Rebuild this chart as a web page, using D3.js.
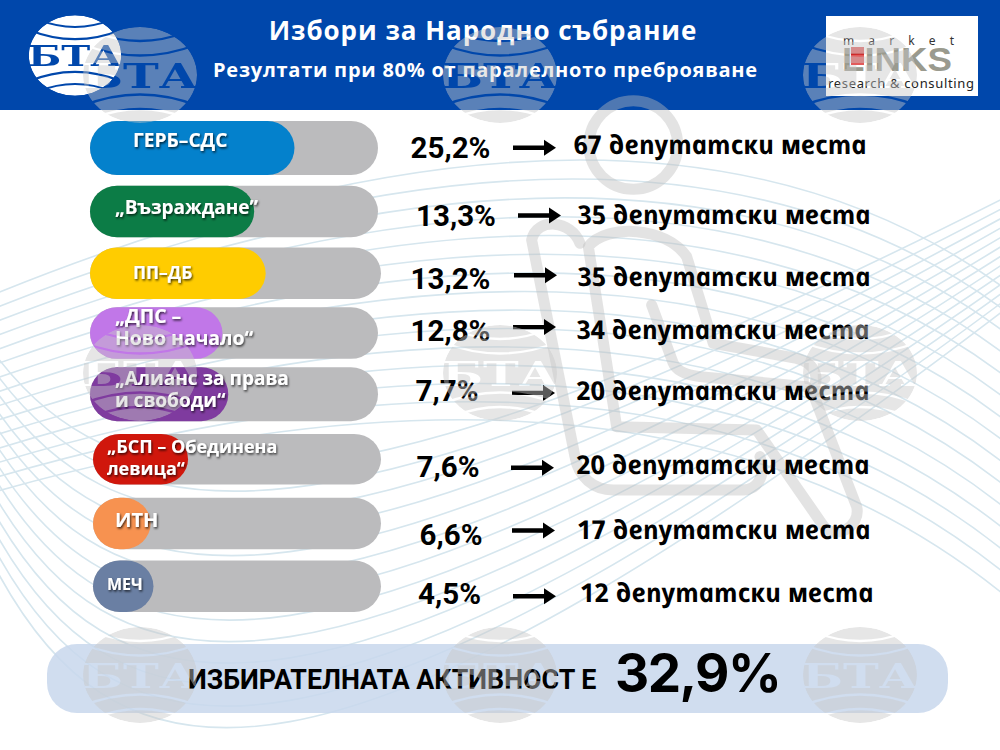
<!DOCTYPE html>
<html lang="bg">
<head>
<meta charset="utf-8">
<title>Избори за Народно събрание</title>
<script src="https://cdn.jsdelivr.net/npm/d3@7"></script>
<style>
  html, body { margin: 0; padding: 0; background: #fff; }
  svg { display: block; }
  text { font-family: "Noto Sans", "Open Sans", sans-serif; }
  .title { font-family: "Open Sans", sans-serif; font-weight: 700; fill: #fff; }
  .party { font-family: "Open Sans", sans-serif; font-weight: 700; fill: #fff; filter: url(#labelShadow); }
  .pct { font-family: Roboto, sans-serif; font-weight: 700; font-size: 29.5px; fill: #000; }
  /* курсивът дава българските форми на д, п, т, и; наклонът се връща със skewX */
  .seats { font-family: "Open Sans", sans-serif; font-style: italic; font-weight: 700; font-size: 26px; fill: #000; }
</style>
</head>
<body>
<div id="container"></div>
<script>
  // данни, прочетени от картинката
  const parties = ["ГЕРБ–СДС", "Възраждане", "ПП–ДБ", "ДПС", "Алианс", "БСП", "ИТН", "МЕЧ"];
  const partyLabels = [
    ["ГЕРБ–СДС"],
    ["„Възраждане”"],
    ["ПП–ДБ"],
    ["„ДПС –", "Ново начало“"],
    ["„Алианс за права", "и свободи“"],
    ["„БСП – Обединена", "левица“"],
    ["ИТН"],
    ["МЕЧ"]
  ];
  const percents = [25.2, 13.3, 13.2, 12.8, 7.7, 7.6, 6.6, 4.5];
  const seats = [67, 35, 35, 34, 20, 20, 17, 12];
  // запълване на лентата в % от дължината ѝ, както е на картинката (не е пропорционално)
  const barFill = [71, 57, 61, 46, 48, 33, 20, 21];
  const turnout = 32.9;

  const PARTY_COLORS = ["#0481cc", "#0c7c46", "#ffcc00", "#c177e8", "#7f3b9f", "#d0170c", "#f79250", "#6a7fa3"];

  // ръчни отмествания на редовете - оригиналът не е подреден точно
  const trackLeft = [90, 90, 90, 90, 90, 93, 93, 93];
  const trackExtra = [0, 0, 3, 0, 0, 0, 0, 0];
  const rowNudge = [0, 2, 1, -2, -5, -1, 0, 0];
  const heightNudge = [2.5, 0, 0, 0, 2.5, -1, 0, 0];
  const labelX = [133, 115, 133, 115, 115, 107, 115, 107];
  const labelY = [147, 214, 279, 323, 385, 453, 527, 590];
  const labelSize = [19.2, 19, 17.5, 19.4, 19, 18, 20, 16];
  const pctX = [450.5, 456, 450.5, 450.5, 447, 448, 451, 449.5];
  const pctDy = [1, 6, 6, -5, -8, 6, 11, 7];
  const arrowX = [513, 518, 514, 513, 512, 511, 512, 513];
  const arrowDy = [1, 6, 3, -8, -5, 7, 7, 10];
  const seatX = [573, 577, 577, 576, 576, 576, 577, 580];
  const seatDy = [-2, 5, 4, -5, -7, 4, 6, 6];

  const WIDTH = 1000;
  const HEIGHT = 750;
  const HEADER = 110;
  const TRACK = 288;
  const fmt = d => d.toFixed(1).replace(".", ",") + "%";

  let svg = d3.select("#container").append("svg")
    .attr("width", WIDTH).attr("height", HEIGHT)
    .attr("viewBox", `0 0 ${WIDTH} ${HEIGHT}`);
  let defs = svg.append("defs");

  let y = d3.scaleBand().domain(parties).range([121, 612]).paddingInner(0.18);
  let x = d3.scaleLinear().domain([0, 100]).range([0, TRACK]);

  setDefs();
  setBackground();
  setHeader();
  setPerson();
  setRows();
  setTurnout();
  setWatermarks();

  function setDefs() {
    let shadow = defs.append("filter").attr("id", "labelShadow")
      .attr("x", "-10%").attr("y", "-20%").attr("width", "120%").attr("height", "150%");
    shadow.append("feDropShadow")
      .attr("dx", 1).attr("dy", 1.5).attr("stdDeviation", 1)
      .attr("flood-color", "#000").attr("flood-opacity", 0.75);

    defs.append("clipPath").attr("id", "belowHeader")
      .append("rect").attr("y", HEADER).attr("width", WIDTH).attr("height", HEIGHT - HEADER);

    // маска на логото на БТА, в локални координати около центъра
    let mask = defs.append("mask").attr("id", "btaMask")
      .attr("maskUnits", "userSpaceOnUse")
      .attr("x", -60).attr("y", -50).attr("width", 120).attr("height", 100);
    mask.append("ellipse").attr("rx", 57).attr("ry", 48).attr("fill", "#fff");
    ["M-46,-43Q0,-25 46,-43", "M-58,-31Q0,-8 58,-31", "M-58,31Q0,8 58,31", "M-46,43Q0,25 46,43"].forEach(d => {
      mask.append("path").attr("d", d).attr("fill", "none").attr("stroke", "#000").attr("stroke-width", 2.4);
    });
    mask.append("text")
      .attr("x", -58).attr("y", 12.5)
      .attr("textLength", 116).attr("lengthAdjust", "spacingAndGlyphs")
      .style("font-family", "'DejaVu Serif', serif").style("font-weight", 700).style("font-size", "34px")
      .attr("fill", "#000").text("БТА");
  }

  function setBackground() {
    let g = svg.append("g").attr("clip-path", "url(#belowHeader)")
      .attr("fill", "none").attr("stroke", "#d6e6ee").attr("stroke-width", 1.6);

    // дъги отгоре, центрирани вдясно
    d3.range(15).forEach(k => {
      g.append("path").attr("d",
        `M-20,${300 + k * 14}Q660,${20 + k * 20} 1020,${300 + k * 22}`);
    });
    // вълни отляво, с дъно към долния край
    d3.range(13).forEach(k => {
      let bottom = 470 + k * 21;
      g.append("path").attr("d",
        `M-20,${333 + k * 17}C110,${bottom + 60 + k * 3} 330,${bottom + 70 + k * 3} 1020,${190 + k * 9}`);
    });
  }

  function setHeader() {
    svg.append("rect").attr("width", WIDTH).attr("height", HEADER).attr("fill", "#0047ab");

    svg.append("text").attr("class", "title")
      .attr("x", 483).attr("y", 40).attr("text-anchor", "middle")
      .style("font-size", "26px").style("letter-spacing", "0.95px")
      .text("Избори за Народно събрание");
    svg.append("text").attr("class", "title")
      .attr("x", 485.5).attr("y", 77).attr("text-anchor", "middle")
      .style("font-size", "20px").style("letter-spacing", "0.75px")
      .text("Резултати при 80% от паралелното преброяване");

    // логото на БТА
    svg.append("g").attr("transform", "translate(75,55.5) scale(0.81,0.84)")
      .append("ellipse").attr("rx", 57).attr("ry", 48).attr("fill", "#fff").attr("mask", "url(#btaMask)");

    // логото на Market Links
    let logo = svg.append("g");
    logo.append("rect").attr("x", 826).attr("y", 16).attr("width", 152).attr("height", 80).attr("fill", "#fff");
    logo.append("text").attr("x", 843).attr("y", 45)
      .attr("textLength", 111).style("font-size", "12px").attr("fill", "#333").text("market");
    logo.append("text").attr("x", 842).attr("y", 71)
      .attr("textLength", 110).attr("lengthAdjust", "spacingAndGlyphs")
      .style("font-family", "'Liberation Sans', sans-serif").style("font-weight", 700).style("font-size", "33.5px")
      .attr("fill", "#9a9a8e").text("LINKS");
    logo.append("rect").attr("x", 851).attr("y", 47).attr("width", 13).attr("height", 18).attr("fill", "#e25b5b");
    logo.append("rect").attr("x", 851).attr("y", 53).attr("width", 13).attr("height", 2).attr("fill", "#d02020");
    logo.append("text").attr("x", 828).attr("y", 88)
      .attr("textLength", 146).style("font-size", "13px").attr("fill", "#222").text("research & consulting");
  }

  function setPerson() {
    // иконата с човека - пътищата са в мащаб 3:1
    let g = svg.append("g").attr("transform", "translate(500,80) scale(0.3333)")
      .attr("fill", "none").attr("stroke", "#bdbdbd").attr("stroke-opacity", 0.42)
      .attr("stroke-width", 33).attr("stroke-linecap", "round").attr("stroke-linejoin", "round");
    g.append("circle").attr("cx", 400).attr("cy", 195).attr("r", 133);
    g.append("path").attr("d",
      "M265,500C320,430 500,440 560,530L640,790L890,835C950,850 960,900 935,930L1070,1280C1085,1340 1000,1390 965,1330L770,1050L350,1040Z");
    g.append("path").attr("d", "M455,675L520,850C530,875 560,885 600,890L920,920");
    g.append("path").attr("d",
      "M240,490C215,420 110,410 95,480L225,1130C235,1190 280,1230 340,1230L730,1230C770,1230 800,1190 780,1130");
  }

  function setRows() {
    let rows = svg.selectAll("g.row").data(parties).enter().append("g").attr("class", "row");

    rows.append("rect")
      .attr("x", (d, i) => trackLeft[i])
      .attr("y", (d, i) => y(d) + rowNudge[i])
      .attr("width", (d, i) => TRACK + trackExtra[i])
      .attr("height", (d, i) => y.bandwidth() + heightNudge[i])
      .attr("rx", 27).attr("fill", "#bbbbbd");

    rows.append("rect")
      .attr("x", (d, i) => trackLeft[i])
      .attr("y", (d, i) => y(d) + rowNudge[i])
      .attr("width", (d, i) => x(barFill[i]))
      .attr("height", (d, i) => y.bandwidth() + heightNudge[i])
      .attr("rx", 27)
      .attr("fill", (d, i) => PARTY_COLORS[i]);

    rows.each(function(d, i) {
      let row = d3.select(this);
      let mid = y(d) + y.bandwidth() / 2;

      partyLabels[i].forEach((line, j) => {
        row.append("text").attr("class", "party")
          .attr("x", labelX[i]).attr("y", labelY[i] + j * 22)
          .style("font-size", labelSize[i] + "px")
          .text(line);
      });

      row.append("text").attr("class", "pct")
        .attr("x", pctX[i]).attr("y", mid + pctDy[i]).attr("dy", ".36em")
        .attr("text-anchor", "middle")
        .text(fmt(percents[i]));

      let ay = mid + arrowDy[i];
      let ax = arrowX[i];
      row.append("path")
        .attr("d", `M${ax},${ay - 2.2}H${ax + 31}V${ay - 8}L${ax + 43},${ay}L${ax + 31},${ay + 8}V${ay + 2.2}H${ax}Z`)
        .attr("fill", "#000");

      row.append("text").attr("class", "seats")
        .attr("transform", `translate(${seatX[i]},${mid + seatDy[i]}) skewX(12)`)
        .attr("dy", ".36em")
        .text(seats[i] + " депутатски места");
    });
  }

  function setTurnout() {
    svg.append("rect").attr("x", 47).attr("y", 644).attr("width", 901).attr("height", 69)
      .attr("rx", 30).attr("fill", "#c8d7ec").attr("fill-opacity", 0.85);
    svg.append("text").attr("x", 188).attr("y", 689)
      .style("font-family", "Roboto, sans-serif").style("font-weight", 700).style("font-size", "26.8px")
      .attr("fill", "#000")
      .text("ИЗБИРАТЕЛНАТА АКТИВНОСТ Е");
    svg.append("text").attr("x", 615).attr("y", 692)
      .style("font-family", "Inter, sans-serif").style("font-weight", 700).style("font-size", "53px")
      .style("letter-spacing", "-1.5px")
      .attr("fill", "#000")
      .text(fmt(turnout));
  }

  function setWatermarks() {
    // водните знаци са най-отгоре, над текста и лентите
    [140, 500, 860].forEach(cx => {
      [75, 373, 675].forEach(cy => {
        svg.append("g").attr("transform", `translate(${cx},${cy})`)
          .append("ellipse").attr("rx", 57).attr("ry", 48)
          .attr("fill", "#c8c8c8").attr("fill-opacity", 0.45)
          .attr("mask", "url(#btaMask)");
      });
    });
  }
</script>
</body>
</html>
